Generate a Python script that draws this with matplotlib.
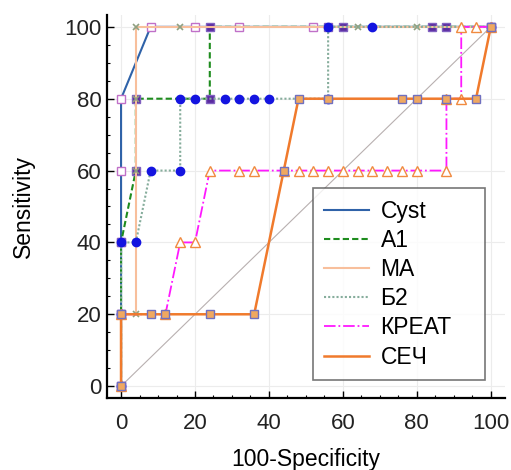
import numpy as np
import matplotlib
matplotlib.use("Agg")
import matplotlib.pyplot as plt
from matplotlib.ticker import MultipleLocator

plt.rcParams['font.family'] = ['Liberation Sans', 'DejaVu Sans']

# ROC points (100-Specificity, Sensitivity)
cyst_x = [0, 0, 0, 0, 0, 8, 20, 32, 52, 100]
cyst_y = [0, 20, 40, 60, 80, 100, 100, 100, 100, 100]

a1_x = [0, 0, 0, 4, 4, 24, 24, 56, 60, 84, 88, 100]
a1_y = [0, 20, 40, 60, 80, 80, 100, 100, 100, 100, 100, 100]

ma_x = [0, 0, 4, 4, 4, 4, 4, 16, 64, 80, 100]
ma_y = [0, 20, 20, 40, 60, 80, 100, 100, 100, 100, 100]

b2_x = [0, 0, 0, 4, 8, 16, 16, 20, 28, 32, 36, 40, 56, 56, 68, 100]
b2_y = [0, 20, 40, 40, 60, 60, 80, 80, 80, 80, 80, 80, 80, 100, 100, 100]

kreat_x = [0, 0, 12, 16, 20, 24, 32, 36, 44, 48, 52, 56, 60, 64, 68, 72, 76, 80,
           88, 88, 92, 92, 96, 100]
kreat_y = [0, 20, 20, 40, 40, 60, 60, 60, 60, 60, 60, 60, 60, 60, 60, 60, 60, 60,
           60, 80, 80, 100, 100, 100]

sech_x = [0, 0, 8, 12, 24, 36, 44, 48, 56, 76, 80, 88, 96, 100]
sech_y = [0, 20, 20, 20, 20, 20, 60, 80, 80, 80, 80, 80, 80, 100]

labels = ["Cyst", "А1", "МА", "Б2", "КРЕАТ", "СЕЧ"]

fig = plt.figure(figsize=(5.11, 4.70), dpi=100)
ax = fig.add_axes([0.2094, 0.1532, 0.7786, 0.8149])

ax.grid(True, color='#ececec', lw=0.8, zorder=0)
ax.plot([0, 100], [0, 100], color='#b8b0b0', lw=0.8, zorder=1)

# curves
ax.plot(cyst_x, cyst_y, color='#2f62a8', lw=1.5, marker='s', ms=5.5,
        mfc='white', mec='#c070c8', label=labels[0], zorder=3)
ax.plot(a1_x, a1_y, color='#1e8c1e', lw=1.5, ls=(0, (3, 1.5)), marker='s', ms=5.5,
        mfc='#5a2aa0', mec='#8060c0', label=labels[1], zorder=3)
ax.plot(ma_x, ma_y, color='#f8bf9c', lw=1.5, marker='x', ms=5,
        mec='#90a080', mew=1.2, label=labels[2], zorder=3)
ax.plot(b2_x, b2_y, color='#86ad9c', lw=1.5, ls=(0, (1, 1)), marker='o', ms=6,
        mfc='#1414e0', mec='#1414e0', label=labels[3], zorder=3)
ax.plot(kreat_x, kreat_y, color='#ff18ff', lw=1.3, ls='-.', marker='^', ms=6.5,
        mfc='white', mec='#f08a40', label=labels[4], zorder=4)
ax.plot(sech_x, sech_y, color='#f07a2c', lw=1.8, marker='s', ms=6,
        mfc='#f0a860', mec='#7070c0', label=labels[5], zorder=5)

ax.set_xlim(-3.8, 103.8)
ax.set_ylim(-3.3, 103.3)
ax.xaxis.set_major_locator(MultipleLocator(20))
ax.yaxis.set_major_locator(MultipleLocator(20))
ax.xaxis.set_minor_locator(MultipleLocator(5))
ax.yaxis.set_minor_locator(MultipleLocator(5))
ax.tick_params(which='major', direction='in', length=5, width=1, labelsize=16,
               labelcolor='#222222')
ax.tick_params(axis='x', which='major', pad=11)
ax.tick_params(axis='y', which='major', pad=4)
ax.tick_params(which='minor', direction='in', length=2.5, width=0.8)

for s in ['top', 'right']:
    ax.spines[s].set_visible(False)
for s in ['left', 'bottom']:
    ax.spines[s].set_linewidth(1.6)

ax.set_xlabel("100-Specificity", fontsize=16.5, labelpad=10)
ax.set_ylabel("Sensitivity", fontsize=16.5, labelpad=21)

leg = ax.legend(loc='lower left', bbox_to_anchor=(0.5176, 0.047, 0.432, 0.504),
                mode='expand', borderaxespad=0, fontsize=16.5, frameon=True,
                fancybox=False, handlelength=1.95, labelspacing=0.27,
                borderpad=0.5, handletextpad=0.5)
leg.get_frame().set_edgecolor('#555555')
leg.get_frame().set_linewidth(1.2)
for h in leg.get_lines():
    h.set_marker('')

fig.savefig("out.png", dpi=100)
